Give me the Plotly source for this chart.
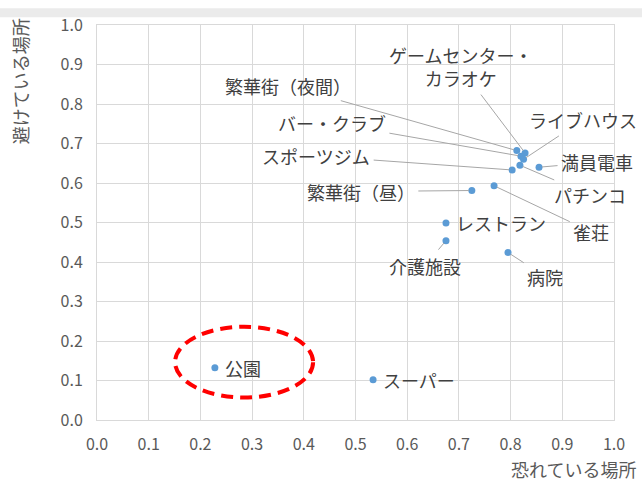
import plotly.graph_objects as go

# Data
places = ["公園", "スーパー", "介護施設", "レストラン", "繁華街（昼）", "雀荘", "病院",
          "満員電車", "繁華街（夜間）", "ゲームセンター・<br>カラオケ", "バー・クラブ",
          "ライブハウス", "パチンコ", "スポーツジム"]
fear = [0.228, 0.534, 0.675, 0.675, 0.725, 0.768, 0.795,
        0.855, 0.812, 0.828, 0.820, 0.825, 0.818, 0.803]
avoid = [0.132, 0.102, 0.454, 0.499, 0.581, 0.593, 0.424,
         0.640, 0.682, 0.676, 0.668, 0.660, 0.645, 0.633]
ticks = [0.0, 0.1, 0.2, 0.3, 0.4, 0.5, 0.6, 0.7, 0.8, 0.9, 1.0]
tick_text = [f"{t:.1f}" for t in ticks]

# label layout (pixel offsets of label centre from its point; None = label beside point)
label_offsets = [None, None, (-21, 25), None, (-111, 1), (97, 46), (37, 24),
                 (58, -5), (-229, -65), (-65, -86), (-189, -33),
                 (59, -39), (70, 30), (-196, -14)]

FONT = "Noto Sans CJK JP, Noto Sans, sans-serif"
TXT = "#404040"
LBL = 18

fig = go.Figure()
fig.add_trace(go.Scatter(x=fear, y=avoid, mode="markers",
                         marker=dict(color="#5b9bd5", size=7),
                         hoverinfo="text", text=places, showlegend=False))

W, H = 642, 485
L, R, T, B = 97, 28, 17, 65
pw, ph = W - L - R, H - T - B

for name, xv, yv, off in zip(places, fear, avoid, label_offsets):
    if off is None:
        fig.add_annotation(x=xv, y=yv, text=name, showarrow=False,
                           xanchor="left", yanchor="middle", xshift=8,
                           font=dict(size=LBL, color=TXT, family=FONT))
    else:
        fig.add_annotation(x=xv, y=yv, text=name, showarrow=True,
                           ax=off[0], ay=off[1], arrowhead=0, arrowwidth=1,
                           arrowcolor="#a6a6a6", standoff=3, startstandoff=2,
                           font=dict(size=LBL, color=TXT, family=FONT),
                           align="center")

# axis titles
fig.add_annotation(xref="paper", yref="paper", x=1 + (638 - (W - R)) / pw,
                   y=-(470 - (H - B)) / ph, text="恐れている場所", showarrow=False,
                   xanchor="right", yanchor="middle",
                   font=dict(size=18, color="#595959", family=FONT))
fig.add_annotation(xref="paper", yref="paper", x=(20 - L) / pw,
                   y=1 + (T - 8) / ph, text="避けている場所", showarrow=False,
                   textangle=-90, xanchor="center", yanchor="top",
                   font=dict(size=18, color="#595959", family=FONT))

# red dashed ellipse around 公園
fig.add_shape(type="circle", xref="x", yref="y", x0=0.151, x1=0.418, y0=0.057, y1=0.236,
              line=dict(color="#ff0000", width=4, dash="12px,7px"))

# top grey strip
fig.add_shape(type="rect", xref="paper", yref="paper", x0=-L / pw, x1=1 + R / pw,
              y0=1 + (T - 9) / ph, y1=1 + T / ph, fillcolor="#ebebeb",
              line=dict(width=0), layer="below")

axis_common = dict(range=[0, 1], tickvals=ticks, ticktext=tick_text,
                   showgrid=True, gridcolor="#d9d9d9", gridwidth=1,
                   zeroline=False, showline=True, linecolor="#d9d9d9", mirror=True,
                   ticks="", tickfont=dict(size=16, color="#595959", family=FONT))
fig.update_xaxes(**axis_common, ticklabelstandoff=10)
fig.update_yaxes(**axis_common, ticklabelstandoff=10)

fig.update_layout(width=W, height=H, margin=dict(l=L, r=R, t=T, b=B),
                  paper_bgcolor="white", plot_bgcolor="white",
                  font=dict(family=FONT, color=TXT))

fig.write_html("out.html", config={"displayModeBar": False},
               post_script="document.body.style.margin='0';document.body.style.padding='0';")
